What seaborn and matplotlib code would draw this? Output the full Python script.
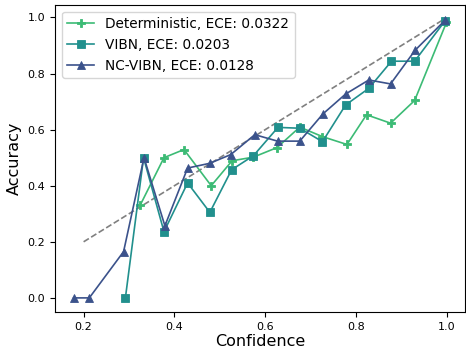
import matplotlib
matplotlib.use("Agg")
import matplotlib.pyplot as plt
import seaborn as sns
import pandas as pd

det_conf = [0.325, 0.377, 0.421, 0.481, 0.527, 0.574, 0.626, 0.676, 0.726, 0.780, 0.823, 0.876, 0.929, 0.999]
det_acc = [0.332, 0.500, 0.529, 0.400, 0.489, 0.502, 0.536, 0.609, 0.575, 0.547, 0.653, 0.623, 0.704, 0.982]

vibn_conf = [0.292, 0.332, 0.377, 0.429, 0.478, 0.526, 0.574, 0.628, 0.676, 0.726, 0.777, 0.828, 0.878, 0.929, 0.996]
vibn_acc = [0.0, 0.500, 0.236, 0.410, 0.305, 0.457, 0.507, 0.608, 0.605, 0.557, 0.688, 0.747, 0.844, 0.844, 0.988]

nc_conf = [0.178, 0.2125, 0.288, 0.333, 0.379, 0.429, 0.478, 0.524, 0.577, 0.627, 0.676, 0.727, 0.777, 0.828, 0.876, 0.930, 0.996]
nc_acc = [0.0, 0.0, 0.165, 0.500, 0.257, 0.463, 0.480, 0.511, 0.582, 0.559, 0.559, 0.656, 0.727, 0.777, 0.763, 0.883, 0.990]

labels = ["Deterministic, ECE: 0.0322", "VIBN, ECE: 0.0203", "NC-VIBN, ECE: 0.0128"]
colors = ["#3cbb75", "#21908d", "#3b528b"]
markers = ["P", "s", "^"]

ideal = [0.2, 0.995]

fig = plt.figure(figsize=(4.66, 3.5), dpi=100)
ax = fig.add_axes([0.118, 0.109, 0.880, 0.877])

ax.plot(ideal, ideal, linestyle="--", color="gray", linewidth=1.2)

series = [(det_conf, det_acc), (vibn_conf, vibn_acc), (nc_conf, nc_acc)]
for (xc, yc), lab, col, mk in zip(series, labels, colors, markers):
    df = pd.DataFrame({"conf": xc, "acc": yc})
    sns.lineplot(data=df, x="conf", y="acc", ax=ax, sort=False, estimator=None,
                 color=col, marker=mk, markersize=6, markeredgewidth=0.6,
                 markeredgecolor=col, linewidth=1.2, label=lab)

ax.set_xlabel("Confidence", fontsize=11.5, labelpad=2)
ax.set_ylabel("Accuracy", fontsize=11.5)
ax.set_xticks([0.2, 0.4, 0.6, 0.8, 1.0])
ax.set_yticks([0.0, 0.2, 0.4, 0.6, 0.8, 1.0])
ax.tick_params(labelsize=8)
ax.legend(loc="upper left", fontsize=9.8)

fig.savefig("out.png", dpi=100)
